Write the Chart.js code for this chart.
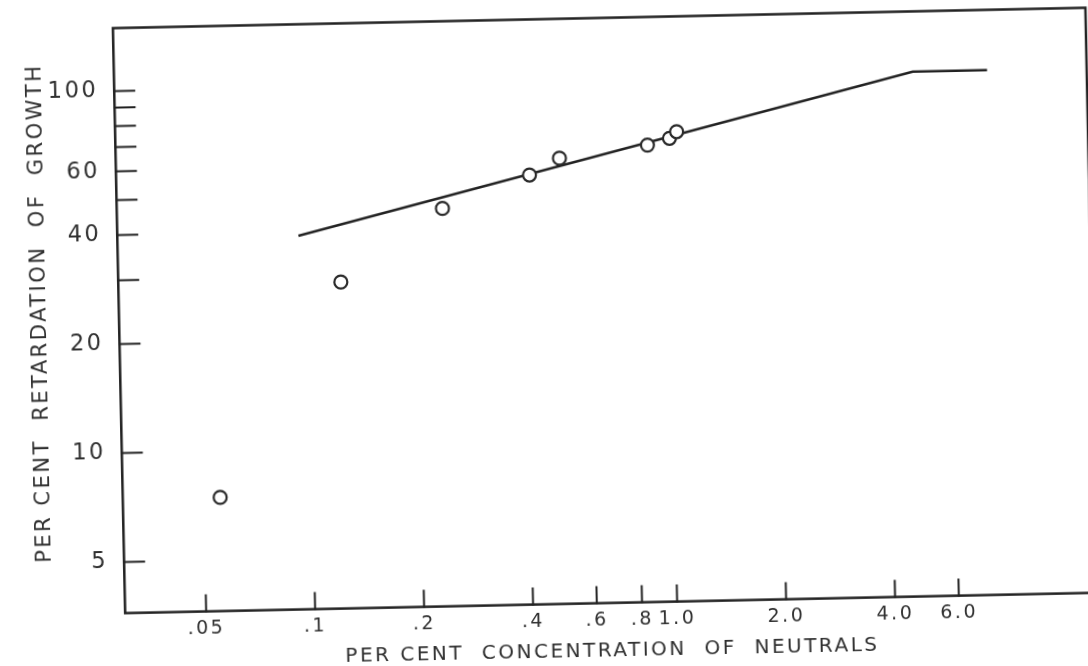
<!DOCTYPE html>
<html>
<head>
<meta charset="utf-8">
<script src="https://cdn.jsdelivr.net/npm/chart.js@4/dist/chart.umd.min.js"></script>
<style>
  html, body { margin: 0; padding: 0; background: #fff; overflow: hidden; width: 1088px; height: 666px; }
  /* the plate sits slightly turned on the page */
  #plate { position: absolute; left: 0; top: 0; width: 1100px; height: 700px;
           transform: rotate(-1.2deg); transform-origin: 0 0; }
  canvas { display: block; }
</style>
</head>
<body>
<div id="plate"><canvas id="chart" width="1100" height="700"></canvas></div>
<script>
// Observations: per cent concentration of neutrals vs per cent retardation of growth
const concentration = [0.0555, 0.123, 0.237, 0.414, 0.502, 0.880, 1.013, 1.061];
const retardation   = [7.44, 28.8, 45.4, 55.5, 61.5, 66.1, 68.8, 71.7];

// Fitted response line, levelling off at high concentration
const lineConcentration = [0.0945, 4.8, 7.7];
const lineRetardation   = [38.9, 101.8, 101.8];

// Axis ticks
const xTickValues  = [0.05, 0.1, 0.2, 0.4, 0.6, 0.8, 1.0, 2.0, 4.0, 6.0];
const xTickLabels  = ['.05', '.1', '.2', '.4', '.6', '.8', '1.0', '2.0', '4.0', '6.0'];
const yTickValues  = [5, 10, 20, 30, 40, 50, 60, 70, 80, 90, 100];
const yLabelValues = [5, 10, 20, 40, 60, 100];

const INK = '#222222';
const TEXT = '#303030';
const FONT = '"DejaVu Sans", "Liberation Sans", sans-serif';

const points = concentration.map((x, i) => ({ x, y: retardation[i] }));
const fitLine = lineConcentration.map((x, i) => ({ x, y: lineRetardation[i] }));

// Frame, inward tick marks, paper background and letter spacing of the lettering
const plateDecor = {
  id: 'plateDecor',
  beforeUpdate(chart) { chart.ctx.letterSpacing = '2.5px'; },
  beforeDraw(chart) {
    const ctx = chart.ctx;
    ctx.save();
    ctx.fillStyle = '#fff';
    ctx.fillRect(0, 0, chart.width, chart.height);
    ctx.restore();
    ctx.letterSpacing = '2.5px';
  },
  beforeDatasetsDraw(chart) {
    const { ctx, chartArea: a, scales: { x, y } } = chart;
    ctx.save();
    ctx.strokeStyle = INK;
    ctx.lineCap = 'square';
    ctx.lineWidth = 2.5;
    ctx.strokeRect(a.left, a.top, a.right - a.left, a.bottom - a.top);
    ctx.lineWidth = 2;
    ctx.beginPath();
    yTickValues.forEach(v => {
      const py = y.getPixelForValue(v);
      ctx.moveTo(a.left, py);
      ctx.lineTo(a.left + 20, py);
    });
    xTickValues.forEach(v => {
      const px = x.getPixelForValue(v);
      ctx.moveTo(px, a.bottom);
      ctx.lineTo(px, a.bottom - 16);
    });
    ctx.stroke();
    ctx.restore();
  }
};

new Chart(document.getElementById('chart'), {
  type: 'scatter',
  data: {
    datasets: [
      {
        data: fitLine,
        showLine: true,
        borderColor: INK,
        borderWidth: 2.5,
        pointRadius: 0,
        tension: 0,
        fill: false,
        order: 2
      },
      {
        data: points,
        pointRadius: 6.5,
        pointBorderWidth: 2.2,
        pointBackgroundColor: '#fff',
        pointBorderColor: '#2a2a2a',
        order: 1
      }
    ]
  },
  options: {
    responsive: false,
    devicePixelRatio: 1,
    animation: false,
    events: [],
    layout: { padding: { left: 0, top: 30.5, right: 15, bottom: 0 } },
    plugins: { legend: { display: false }, tooltip: { enabled: false } },
    scales: {
      x: {
        type: 'logarithmic',
        position: 'bottom',
        min: 0.02987,
        max: 14.51,
        afterBuildTicks: s => { s.ticks = xTickValues.map(v => ({ value: v })); },
        afterFit: s => { s.height = 700 - 615.6; },
        grid: { display: false, drawTicks: false },
        border: { display: false },
        ticks: {
          autoSkip: false, maxRotation: 0, minRotation: 0, padding: 6,
          color: TEXT, font: { family: FONT, size: 19 },
          callback: (v, i) => xTickLabels[i]
        },
        title: {
          display: true,
          text: 'PER CENT  CONCENTRATION  OF  NEUTRALS',
          color: TEXT,
          font: { family: FONT, size: 20 },
          padding: { top: 0, bottom: 24 }
        }
      },
      y: {
        type: 'logarithmic',
        position: 'left',
        min: 3.61,
        max: 149.3,
        afterBuildTicks: s => { s.ticks = yLabelValues.map(v => ({ value: v })); },
        afterFit: s => { s.width = 112.3; },
        grid: { display: false, drawTicks: false },
        border: { display: false },
        ticks: {
          autoSkip: false, padding: 16,
          color: TEXT, font: { family: FONT, size: 22.5 },
          callback: v => String(v)
        },
        title: {
          display: true,
          text: '  PER CENT  RETARDATION  OF  GROWTH',
          color: TEXT,
          font: { family: FONT, size: 21 },
          padding: { top: 21, bottom: 0 }
        }
      }
    }
  },
  plugins: [plateDecor]
});
</script>
</body>
</html>
